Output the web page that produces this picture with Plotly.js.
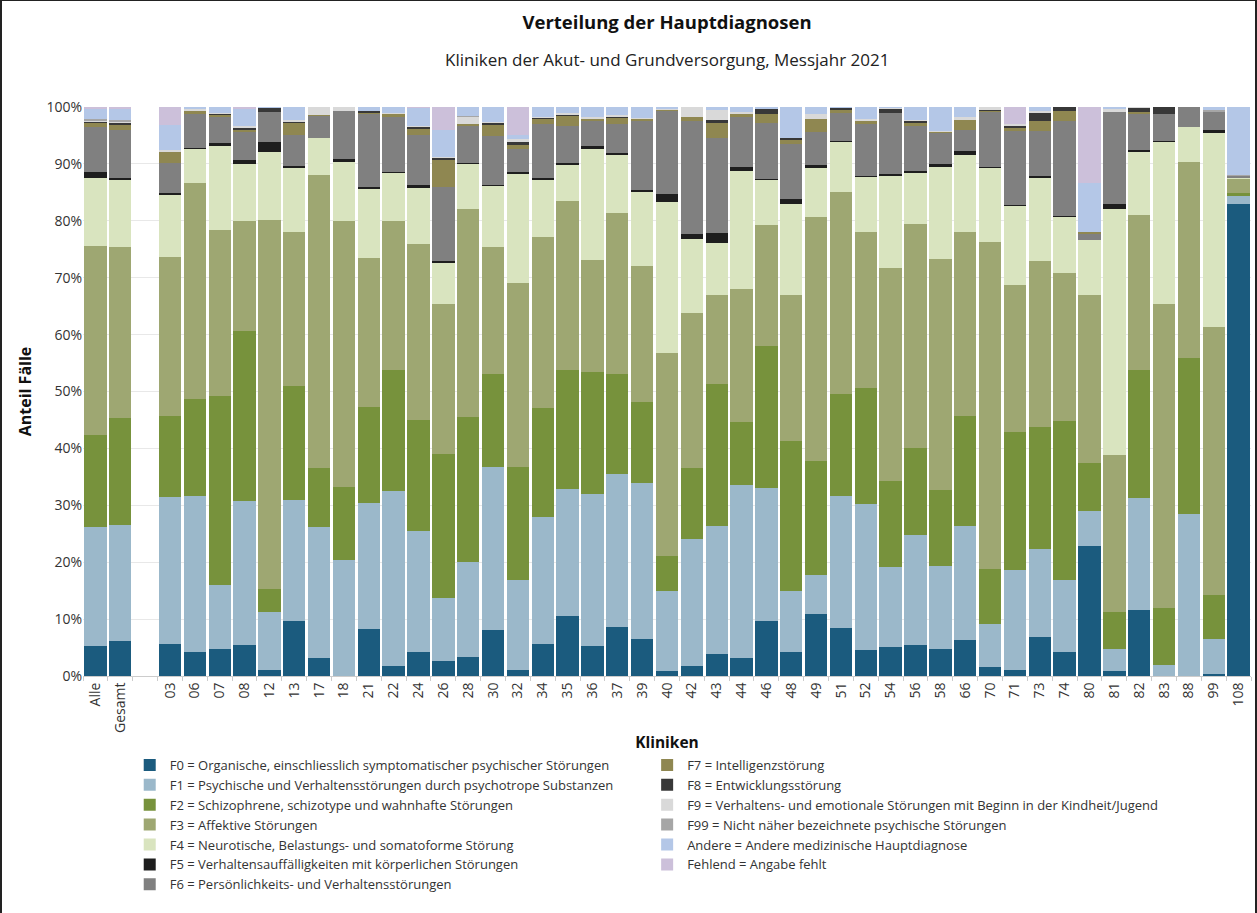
<!DOCTYPE html>
<html>
<head>
<meta charset="utf-8">
<script src="https://cdn.plot.ly/plotly-3.0.1.min.js"></script>
<style>
  html, body { margin: 0; padding: 0; background: #fff; }
  #chart { width: 1253px; height: 912px; border-left: 2px solid #222; border-top: 1px solid #222; border-right: 2px solid #222; }
</style>
</head>
<body>
<div id="chart"></div>
<script>
// Kliniken (a blank slot separates Alle/Gesamt from the clinics)
var kliniken = ['Alle', 'Gesamt', ' ', '03', '06', '07', '08', '12', '13', '17', '18', '21', '22', '24', '26',
  '28', '30', '32', '34', '35', '36', '37', '39', '40', '42', '43', '44', '46', '48', '49', '51', '52', '54',
  '56', '58', '66', '70', '71', '73', '74', '80', '81', '82', '83', '88', '99', '108'];

// share of cases in %
var f0 = [5.3, 6.1, null, 5.6, 4.3, 4.8, 5.4, 1.1, 9.6, 3.2, 0, 8.3, 1.7, 4.2, 2.6, 3.4, 8.1, 1.0, 5.6, 10.6, 5.3,
  8.6, 6.5, 0.9, 1.7, 3.8, 3.1, 9.7, 4.3, 10.9, 8.4, 4.6, 5.1, 5.4, 4.8, 6.4, 1.5, 1.0, 6.9, 4.3, 22.9, 0.9, 11.6,
  0, 0, 0.3, 83.0];
var f1 = [20.9, 20.5, null, 25.8, 27.3, 11.2, 25.3, 10.1, 21.4, 22.9, 20.3, 22.1, 30.8, 21.3, 11.1, 16.7, 28.7,
  15.8, 22.3, 22.2, 26.7, 26.9, 27.5, 14.0, 22.3, 22.6, 30.4, 23.3, 10.6, 6.9, 23.3, 25.6, 14.0, 19.4, 14.5, 20.0,
  7.6, 17.6, 15.5, 12.5, 6.1, 3.9, 19.6, 2.0, 28.4, 6.2, 1.3];
var f2 = [16.2, 18.7, null, 14.3, 17.1, 33.2, 29.9, 4.1, 20.0, 10.4, 12.9, 16.8, 21.2, 19.6, 25.4, 25.4, 16.3,
  20.0, 19.2, 21.0, 21.5, 17.5, 14.2, 6.2, 12.5, 25.0, 11.1, 25.0, 26.4, 20.0, 17.8, 20.5, 15.2, 15.3, 13.5, 19.3,
  9.7, 24.3, 21.4, 28.0, 8.5, 6.4, 22.6, 10.0, 27.5, 7.8, 0.5];
var f3 = [33.2, 30.1, null, 27.9, 38.0, 29.1, 19.4, 64.8, 27.0, 51.6, 46.7, 26.3, 26.2, 30.9, 26.2, 36.5, 22.5,
  32.2, 30.1, 29.6, 19.6, 28.3, 23.9, 35.8, 27.3, 15.6, 23.5, 21.2, 25.6, 42.9, 35.6, 27.3, 37.3, 39.4, 40.6, 32.3,
  57.4, 25.9, 29.1, 26.0, 29.5, 27.6, 27.2, 53.3, 34.5, 47.0, 2.7];
var f4 = [11.9, 11.7, null, 11.0, 6.0, 14.8, 9.9, 12.0, 11.3, 6.5, 10.4, 12.1, 8.6, 9.8, 7.3, 8.0, 10.7, 19.3,
  10.1, 6.5, 19.6, 10.3, 12.9, 26.5, 13.0, 9.1, 20.7, 8.1, 16.1, 8.5, 8.8, 9.8, 16.2, 8.9, 16.4, 13.6, 13.2, 13.9,
  14.7, 9.9, 9.7, 43.2, 11.2, 28.6, 6.1, 34.2, 0.1];
var f5 = [1.1, 0.4, null, 0.3, 0.1, 0.6, 0.7, 1.8, 0.3, 0, 0.5, 0.4, 0.1, 0.5, 0.3, 0.2, 0.2, 0.2, 0.2, 0.3, 0.4,
  0.3, 0.5, 1.4, 0.8, 1.8, 0.6, 0.1, 0.8, 0.6, 0.1, 0.1, 0.3, 0.4, 0.3, 0.6, 0.1, 0.1, 0.3, 0.1, 0, 1.0, 0.2, 0.1,
  0, 0.4, 0];
var f6 = [7.8, 8.4, null, 5.3, 5.9, 4.5, 5.1, 5.3, 5.4, 3.9, 8.5, 12.8, 9.6, 8.9, 13.0, 6.6, 8.6, 4.1, 9.5, 6.5,
  4.5, 5.1, 12.1, 14.7, 19.9, 16.7, 8.9, 9.8, 9.7, 5.8, 4.9, 9.1, 10.7, 7.8, 5.6, 3.7, 9.7, 13.0, 7.8, 16.7, 0.9,
  16.2, 6.4, 4.8, 3.5, 3.3, 0.3];
var f7 = [0.8, 0.9, null, 2.0, 0.6, 0.5, 0.3, 0, 2.2, 0.1, 0, 0.3, 0.6, 1.0, 4.7, 0.2, 1.9, 0.8, 1.0, 1.8, 0.3,
  1.2, 0.3, 0.2, 0.7, 2.6, 0.5, 1.5, 0.7, 2.3, 0.5, 0.6, 0, 0.6, 0.1, 1.8, 0.1, 0.5, 1.8, 1.8, 0.5, 0, 0.4, 0, 0,
  0, 0];
var f8 = [0.2, 0.4, null, 0, 0.1, 0.2, 0.3, 0.7, 0.3, 0, 0, 0.2, 0.1, 0.4, 0.5, 0, 0.4, 0.5, 0.2, 0.2, 0, 0.2, 0,
  0, 0, 0.5, 0.1, 1.0, 0.4, 0, 0.5, 0.1, 0.9, 0.5, 0.1, 0, 0.2, 0.5, 1.5, 0.7, 0, 0, 0.7, 1.2, 0, 0, 0];
var f9 = [0.3, 0.3, null, 0.2, 0.2, 0.1, 0.4, 0, 0.2, 1.4, 0.7, 0, 0.1, 0.1, 0.2, 1.3, 0.2, 0.5, 0.1, 0.2, 0.3,
  0.2, 0.2, 0.1, 1.8, 1.8, 0.3, 0, 0, 0.8, 0, 0.2, 0.1, 0.1, 0.1, 0.5, 0.5, 0.2, 0.3, 0, 0, 0.5, 0.1, 0, 0, 0, 0];
var f99 = [0.2, 0.2, null, 0, 0, 0, 0, 0, 0, 0, 0, 0, 0, 0, 0, 0.2, 0, 0, 0, 0, 0, 0, 0, 0, 0, 0, 0, 0, 0, 0, 0,
  0, 0, 0, 0, 0, 0, 0, 0, 0, 0, 0, 0, 0, 0, 0.2, 0.1];
var andere = [1.8, 2.0, null, 4.4, 0.4, 1.0, 3.0, 0.1, 2.3, 0, 0, 0.7, 1.0, 3.3, 4.6, 1.5, 2.6, 0.6, 1.7, 1.1,
  1.8, 1.4, 1.9, 0.3, 0, 0.5, 0.8, 0.3, 5.4, 1.3, 0.1, 2.1, 0.1, 2.2, 4.2, 1.8, 0, 0, 0.7, 0, 8.5, 0.3, 0, 0, 0,
  0.6, 12.0];
var fehlend = [0.3, 0.3, null, 3.2, 0, 0, 0.3, 0, 0, 0, 0, 0, 0, 0.1, 4.1, 0, 0, 5.0, 0, 0, 0, 0, 0, 0, 0, 0, 0,
  0, 0, 0, 0, 0, 0, 0, 0, 0, 0, 3.0, 0, 0, 13.4, 0, 0, 0, 0, 0, 0];

var series = [
  {name: 'F0 = Organische, einschliesslich symptomatischer psychischer Störungen', y: f0, color: '#1b5b7e', legend: 'legend'},
  {name: 'F1 = Psychische und Verhaltensstörungen durch psychotrope Substanzen', y: f1, color: '#9bb8ca', legend: 'legend'},
  {name: 'F2 = Schizophrene, schizotype und wahnhafte Störungen', y: f2, color: '#77923c', legend: 'legend'},
  {name: 'F3 = Affektive Störungen', y: f3, color: '#9ea772', legend: 'legend'},
  {name: 'F4 = Neurotische, Belastungs- und somatoforme Störung', y: f4, color: '#d9e4bf', legend: 'legend'},
  {name: 'F5 = Verhaltensauffälligkeiten mit körperlichen Störungen', y: f5, color: '#1e1e1e', legend: 'legend'},
  {name: 'F6 = Persönlichkeits- und Verhaltensstörungen', y: f6, color: '#808080', legend: 'legend'},
  {name: 'F7 = Intelligenzstörung', y: f7, color: '#8f8751', legend: 'legend2'},
  {name: 'F8 = Entwicklungsstörung', y: f8, color: '#383838', legend: 'legend2'},
  {name: 'F9 = Verhaltens- und emotionale Störungen mit Beginn in der Kindheit/Jugend', y: f9, color: '#d9d9d9', legend: 'legend2'},
  {name: 'F99 = Nicht näher bezeichnete psychische Störungen', y: f99, color: '#a6a6a6', legend: 'legend2'},
  {name: 'Andere = Andere medizinische Hauptdiagnose', y: andere, color: '#b4c7e7', legend: 'legend2'},
  {name: 'Fehlend = Angabe fehlt', y: fehlend, color: '#ccc0da', legend: 'legend2'}
];

var traces = series.map(function (s) {
  return {
    type: 'bar',
    x: kliniken,
    y: s.y,
    name: s.name,
    legend: s.legend,
    marker: {color: s.color},
    hovertemplate: '%{x}: %{y:.1f}%<extra>' + s.name + '</extra>'
  };
});

var fnt = 'Open Sans, Noto Sans, sans-serif';
var legFont = {size: 13, color: '#333'};
var layout = {
  barmode: 'stack',
  barnorm: 'percent',
  bargap: 0.1,
  font: {family: fnt, size: 13, color: '#333'},
  paper_bgcolor: '#fff',
  plot_bgcolor: '#fff',
  margin: {l: 81, r: 4, t: 106, b: 237},
  title: {
    text: '<b>Verteilung der Hauptdiagnosen</b>',
    font: {size: 18.5, color: '#111'},
    x: 0.5, xref: 'paper', y: 0.976, yanchor: 'middle'
  },
  annotations: [{
    text: 'Kliniken der Akut- und Grundversorgung, Messjahr 2021',
    xref: 'paper', yref: 'paper', x: 0.5, y: 1.083, yanchor: 'middle',
    showarrow: false, font: {size: 17, color: '#222'}
  }],
  xaxis: {
    type: 'category',
    categoryorder: 'array',
    categoryarray: kliniken,
    tickangle: -90,
    tickfont: {size: 14, color: '#333'},
    ticks: 'outside',
    tickson: 'boundaries',
    ticklen: 4,
    tickcolor: '#ccc',
    showline: true,
    linecolor: '#ccc',
    title: {text: '<b>Kliniken</b>', font: {size: 15.5, color: '#111'}, standoff: 5}
  },
  yaxis: {
    range: [0, 100],
    dtick: 10,
    ticksuffix: '%',
    tickfont: {size: 14, color: '#333'},
    gridcolor: '#e8e8e8',
    zeroline: false,
    title: {text: '<b>Anteil Fälle</b>', font: {size: 16, color: '#111'}, standoff: 10}
  },
  legend: {
    x: 0.04, y: -0.13, xanchor: 'left', yanchor: 'top',
    orientation: 'v', traceorder: 'normal',
    font: legFont,
    bgcolor: 'rgba(0,0,0,0)'
  },
  legend2: {
    x: 0.483, y: -0.13, xanchor: 'left', yanchor: 'top',
    orientation: 'v', traceorder: 'normal',
    font: legFont,
    bgcolor: 'rgba(0,0,0,0)'
  },
  showlegend: true
};

Plotly.newPlot('chart', traces, layout, {displayModeBar: false, responsive: false});
</script>
</body>
</html>
